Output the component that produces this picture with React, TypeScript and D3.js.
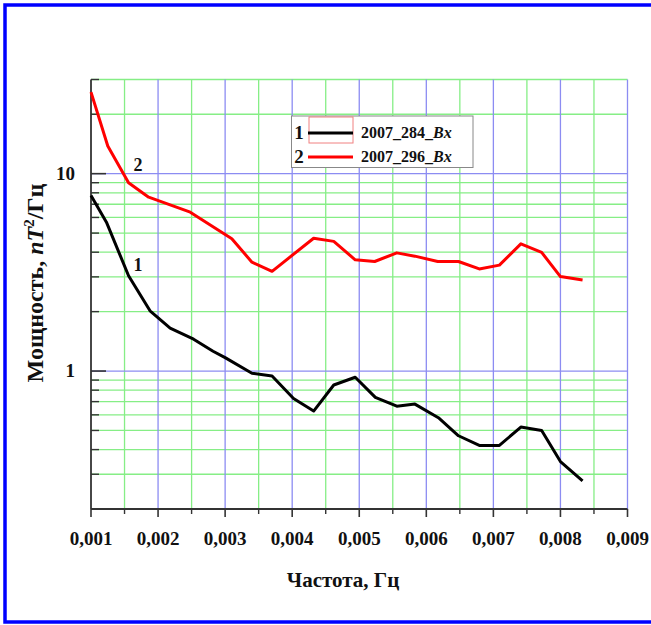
import React from "react";
import * as d3 from "d3";

// frequency (Hz) / power (nT^2/Hz)
const freq1 = [0.001, 0.00123, 0.00156, 0.00188, 0.00218, 0.00253, 0.00282, 0.003, 0.0034, 0.0037, 0.00402, 0.00432, 0.00462, 0.00494, 0.00524, 0.00556, 0.00583, 0.00618, 0.00648, 0.00679, 0.00709, 0.00741, 0.00772, 0.008, 0.00833];
const power1 = [7.76, 5.68, 3.04, 2.02, 1.65, 1.45, 1.26, 1.17, 0.974, 0.943, 0.726, 0.627, 0.85, 0.93, 0.736, 0.664, 0.68, 0.58, 0.47, 0.42, 0.42, 0.52, 0.5, 0.348, 0.278];

const freq2 = [0.001, 0.00125, 0.00156, 0.00186, 0.00248, 0.0031, 0.0034, 0.0037, 0.00432, 0.00462, 0.00494, 0.00523, 0.00556, 0.00583, 0.00617, 0.00648, 0.00679, 0.00709, 0.00741, 0.00772, 0.008, 0.00833];
const power2 = [25.9, 13.8, 9.0, 7.6, 6.38, 4.68, 3.56, 3.2, 4.71, 4.54, 3.66, 3.59, 3.97, 3.82, 3.59, 3.59, 3.29, 3.44, 4.41, 3.99, 3.01, 2.89];

const seriesNames = ["2007_284_", "2007_296_"];
const seriesColors = ["#000000", "#ff0000"];

const xMajor = [0.001, 0.002, 0.003, 0.004, 0.005, 0.006, 0.007, 0.008, 0.009];
const xMinor = [0.0015, 0.0025, 0.0035, 0.0045, 0.0055, 0.0065, 0.0075, 0.0085];
const yMajor = [1, 10];
const yMinor = [0.3, 0.4, 0.5, 0.6, 0.7, 0.8, 0.9, 2, 3, 4, 5, 6, 7, 8, 9, 20, 30];

const font = "'Liberation Serif', 'Times New Roman', serif";

export default function App() {
  const width = 651;
  const height = 625;
  const left = 91;
  const right = 627.5;
  const top = 79.5;
  const bottom = 509;

  const x = d3.scaleLinear().domain([0.001, 0.009]).range([left, right]);
  const y = d3.scaleLog().domain([0.2, 30]).range([bottom, top]);

  const path1 = d3.line<number>().x(d => x(freq1[d])).y(d => y(power1[d]))(freq1.map((_, i) => i));
  const path2 = d3.line<number>().x(d => x(freq2[d])).y(d => y(power2[d]))(freq2.map((_, i) => i));

  const green = "#86ee86";
  const blue = "#8c8cf2";
  const axisColor = "#333";

  return (
    <div style={{ position: "absolute", left: 0, top: 0 }}>
      <svg width={width} height={height} style={{ display: "block", background: "#fff" }}>
        {/* frame */}
        <rect x={5} y={5} width={700} height={617} fill="none" stroke="#0000ff" strokeWidth={3.5} />

        {/* grid */}
        {xMinor.map(v => (
          <line key={"gx" + v} x1={x(v)} x2={x(v)} y1={top} y2={bottom} stroke={green} strokeWidth={1.3} />
        ))}
        {yMinor.map(v => (
          <line key={"gy" + v} x1={left} x2={right} y1={y(v)} y2={y(v)} stroke={green} strokeWidth={1.3} />
        ))}
        {xMajor.slice(1).map(v => (
          <line key={"bx" + v} x1={x(v)} x2={x(v)} y1={top} y2={bottom} stroke={blue} strokeWidth={1.3} />
        ))}
        {yMajor.map(v => (
          <line key={"by" + v} x1={left} x2={right} y1={y(v)} y2={y(v)} stroke={blue} strokeWidth={1.3} />
        ))}

        {/* axes */}
        <line x1={left} x2={left} y1={top} y2={bottom} stroke={axisColor} strokeWidth={1.8} />
        <line x1={left} x2={right} y1={bottom} y2={bottom} stroke={axisColor} strokeWidth={1.8} />
        {yMajor.map(v => (
          <line key={"ty" + v} x1={left} x2={left + 15} y1={y(v)} y2={y(v)} stroke={axisColor} strokeWidth={1.6} />
        ))}
        {yMinor.map(v => (
          <line key={"tym" + v} x1={left} x2={left + 8} y1={y(v)} y2={y(v)} stroke={axisColor} strokeWidth={1.4} />
        ))}
        {xMajor.map(v => (
          <line key={"tx" + v} x1={x(v)} x2={x(v)} y1={bottom} y2={bottom + 8} stroke={axisColor} strokeWidth={1.6} />
        ))}
        {xMinor.map(v => (
          <line key={"txm" + v} x1={x(v)} x2={x(v)} y1={bottom} y2={bottom + 5} stroke={axisColor} strokeWidth={1.4} />
        ))}

        {/* tick labels */}
        {xMajor.map(v => (
          <text key={"lx" + v} x={x(v)} y={545} textAnchor="middle" fontFamily={font} fontWeight="bold" fontSize={19} fill="#111">
            {v.toFixed(3).replace(".", ",")}
          </text>
        ))}
        {yMajor.map(v => (
          <text key={"ly" + v} x={75} y={y(v) + 6} textAnchor="end" fontFamily={font} fontWeight="bold" fontSize={19} fill="#111">
            {v}
          </text>
        ))}

        {/* axis titles */}
        <text x={343} y={587} textAnchor="middle" fontFamily={font} fontWeight="bold" fontSize={21} fill="#111">
          Частота, Гц
        </text>
        <text transform="translate(43,283) rotate(-90)" textAnchor="middle" fontFamily={font} fontWeight="bold" fontSize={24} fill="#111">
          Мощность, <tspan fontStyle="italic">nT</tspan>
          <tspan dy={-9} fontSize={15}>2</tspan>
          <tspan dy={9}>/Гц</tspan>
        </text>

        {/* curves */}
        <path d={path1 ?? ""} fill="none" stroke={seriesColors[0]} strokeWidth={3} strokeLinejoin="round" />
        <path d={path2 ?? ""} fill="none" stroke={seriesColors[1]} strokeWidth={3} strokeLinejoin="round" />
        <text x={138} y={171} textAnchor="middle" fontFamily={font} fontWeight="bold" fontSize={18} fill="#111">2</text>
        <text x={138} y={271} textAnchor="middle" fontFamily={font} fontWeight="bold" fontSize={18} fill="#111">1</text>

        {/* legend */}
        <rect x={291.5} y={116} width={181.5} height={51.5} fill="#fff" stroke="#888" strokeWidth={1} />
        <rect x={309} y={117} width={44} height={26} fill="none" stroke="#f08080" strokeWidth={1} />
        {seriesNames.map((name, i) => (
          <g key={name} transform={`translate(0,${133 + i * 24})`}>
            <text x={299} y={6} textAnchor="middle" fontFamily={font} fontWeight="bold" fontSize={19} fill="#111">{i + 1}</text>
            <line x1={308} x2={353} y1={0} y2={0} stroke={seriesColors[i]} strokeWidth={3} />
            <text x={361} y={5} fontFamily={font} fontWeight="bold" fontSize={16} fill="#111">
              {name}<tspan fontStyle="italic">Bx</tspan>
            </text>
          </g>
        ))}
      </svg>
    </div>
  );
}
